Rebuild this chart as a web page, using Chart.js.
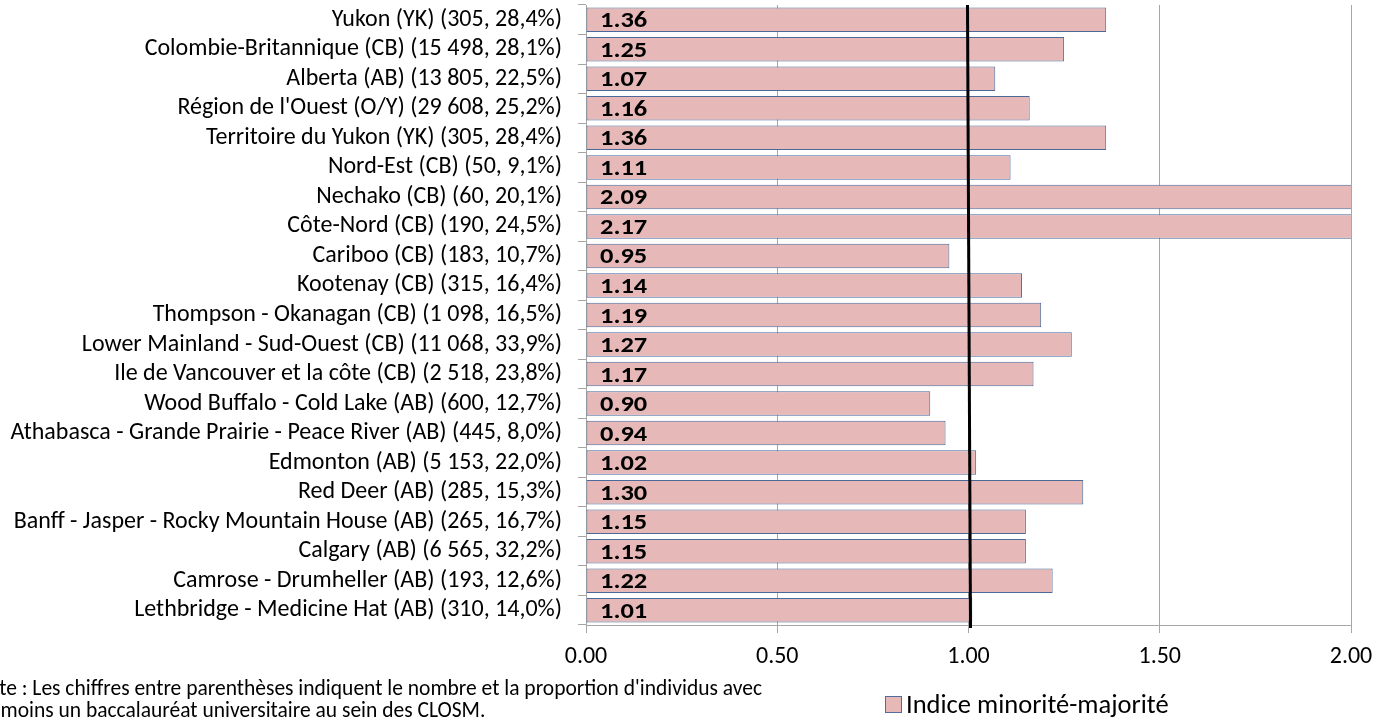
<!DOCTYPE html>
<html>
<head>
<meta charset="utf-8">
<script src="https://cdn.jsdelivr.net/npm/chart.js@4"></script>
<style>
  html, body { margin: 0; padding: 0; background: #fff; overflow: hidden; }
  #wrap { position: relative; width: 1376px; height: 719px; }
  .note { position: absolute; left: -26px; top: 677px; font: 21.5px Carlito, "Open Sans", sans-serif; color: #000; line-height: 22px; white-space: nowrap; }
  .legend { position: absolute; left: 885px; top: 688px; font: 26.5px Carlito, "Open Sans", sans-serif; color: #000; white-space: nowrap; }
  .legend span.box { display: inline-block; width: 15px; height: 15px; background: #e6b9b8; border: 1px solid #4f6ea0; margin-right: 4px; vertical-align: 0px; }
</style>
</head>
<body>
<div id="wrap">
  <canvas id="chart" width="1376" height="719"></canvas>
  <div class="note">Note : Les chiffres entre parenthèses indiquent le nombre et la proportion d'individus avec<br>au moins un baccalauréat universitaire au sein des CLOSM.</div>
  <div class="legend"><span class="box"></span>Indice minorité-majorité</div>
</div>
<script>
// regions (top to bottom)
const regions = [
    "Yukon (YK) (305, 28,4%)",
    "Colombie-Britannique (CB) (15 498, 28,1%)",
    "Alberta (AB) (13 805, 22,5%)",
    "Région de l'Ouest (O/Y) (29 608, 25,2%)",
    "Territoire du Yukon (YK) (305, 28,4%)",
    "Nord-Est (CB) (50, 9,1%)",
    "Nechako (CB) (60, 20,1%)",
    "Côte-Nord (CB) (190, 24,5%)",
    "Cariboo (CB) (183, 10,7%)",
    "Kootenay (CB) (315, 16,4%)",
    "Thompson - Okanagan (CB) (1 098, 16,5%)",
    "Lower Mainland - Sud-Ouest (CB) (11 068, 33,9%)",
    "Ile de Vancouver et la côte (CB) (2 518, 23,8%)",
    "Wood Buffalo - Cold Lake (AB) (600, 12,7%)",
    "Athabasca - Grande Prairie - Peace River (AB) (445, 8,0%)",
    "Edmonton (AB) (5 153, 22,0%)",
    "Red Deer (AB) (285, 15,3%)",
    "Banff - Jasper - Rocky Mountain House (AB) (265, 16,7%)",
    "Calgary (AB) (6 565, 32,2%)",
    "Camrose - Drumheller (AB) (193, 12,6%)",
    "Lethbridge - Medicine Hat (AB) (310, 14,0%)"
];

const indexValues = [1.36, 1.25, 1.07, 1.16, 1.36, 1.11, 2.09, 2.17, 0.95, 1.14, 1.19,
                     1.27, 1.17, 0.90, 0.94, 1.02, 1.30, 1.15, 1.15, 1.22, 1.01];

const xTicks = [0, 0.5, 1, 1.5, 2];
const referenceLine = 1;

const fontFamily = 'Carlito, "Open Sans", sans-serif';

// value labels written at the start of each bar (a bit stretched, like the original)
const valueLabels = {
    id: 'valueLabels',
    afterDatasetsDraw(chart) {
        const ctx = chart.ctx;
        const meta = chart.getDatasetMeta(0);
        const x0 = chart.scales.x.getPixelForValue(0);
        ctx.save();
        ctx.font = 'bold 22px ' + fontFamily;
        ctx.fillStyle = '#000';
        ctx.textBaseline = 'middle';
        meta.data.forEach((bar, i) => {
            ctx.save();
            ctx.translate(x0 + 14, bar.y + 2);
            ctx.scale(1.2, 1);
            ctx.fillText(indexValues[i].toFixed(2), 0, 0);
            ctx.restore();
        });
        ctx.restore();
    }
};

// thick black line at index = 1
const refLine = {
    id: 'refLine',
    afterDatasetsDraw(chart) {
        const ctx = chart.ctx;
        const area = chart.chartArea;
        const x = chart.scales.x.getPixelForValue(referenceLine);
        ctx.save();
        ctx.strokeStyle = '#000';
        ctx.lineWidth = 3;
        ctx.beginPath();
        ctx.moveTo(x - 1, area.top);
        ctx.lineTo(x + 2, area.bottom + 3);
        ctx.stroke();
        // right border of the plot
        ctx.strokeStyle = '#8eaadb';
        ctx.lineWidth = 1;
        ctx.beginPath();
        ctx.moveTo(area.right + 0.5, area.top);
        ctx.lineTo(area.right + 0.5, area.bottom);
        ctx.stroke();
        ctx.restore();
    }
};

new Chart(document.getElementById('chart'), {
    type: 'bar',
    data: {
        labels: regions,
        datasets: [{
            label: 'Indice minorité-majorité',
            data: indexValues,
            backgroundColor: '#e6b9b8',
            borderColor: '#4a6898',
            borderWidth: 1,
            borderSkipped: false,
            categoryPercentage: 1,
            barPercentage: 0.83
        }]
    },
    options: {
        indexAxis: 'y',
        responsive: false,
        animation: false,
        layout: { padding: { top: 5, right: 25, bottom: 34, left: 0 } },
        plugins: {
            legend: { display: false },
            tooltip: { enabled: false }
        },
        scales: {
            x: {
                min: 0,
                max: 2,
                afterBuildTicks(axis) { axis.ticks = xTicks.map(v => ({ value: v })); },
                afterFit(axis) { axis.height = 60; axis.paddingLeft = 0; axis.paddingRight = 0; },
                grid: { color: '#a6a6a6', tickLength: 8, drawOnChartArea: true },
                border: { color: '#a6a6a6' },
                ticks: {
                    font: { size: 24, family: fontFamily },
                    color: '#000',
                    padding: 10,
                    callback: v => v.toFixed(2)
                }
            },
            y: {
                afterFit(axis) { axis.width = 586; axis.paddingTop = 0; axis.paddingBottom = 0; },
                grid: { offset: true, drawOnChartArea: false, color: '#a6a6a6', tickLength: 8 },
                border: { color: '#a6a6a6' },
                ticks: {
                    font: { size: 24, family: fontFamily },
                    color: '#000',
                    padding: 16,
                    autoSkip: false
                }
            }
        }
    },
    plugins: [valueLabels, refLine]
});
</script>
</body>
</html>
